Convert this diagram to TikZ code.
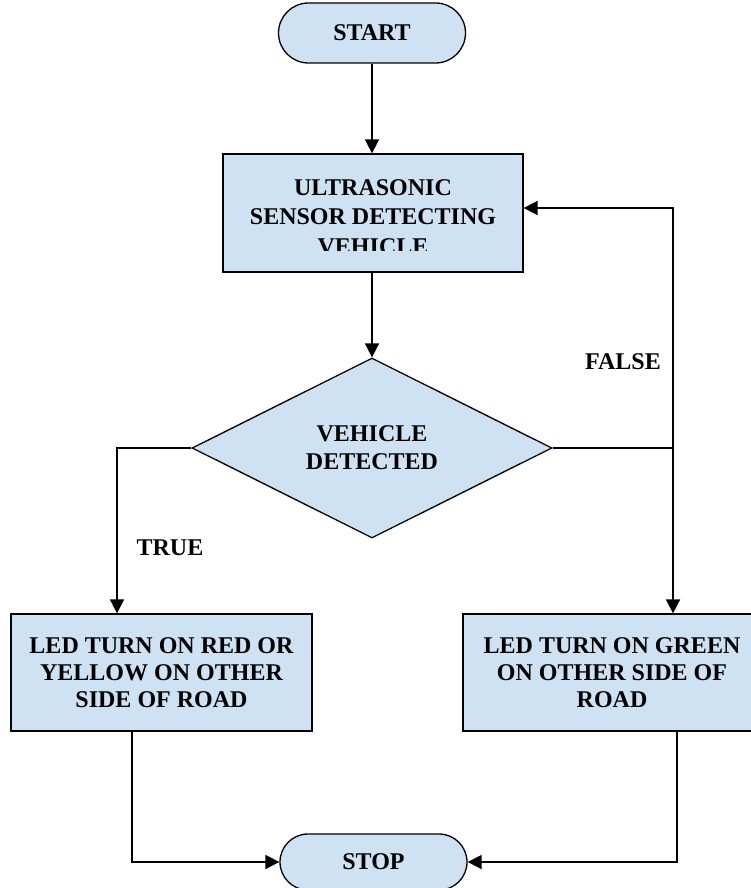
\documentclass[tikz,border=0pt]{standalone}
\usepackage{fontspec}
\setmainfont{Liberation Serif}
\usetikzlibrary{shapes.misc,shapes.geometric,arrows.meta}
\definecolor{boxfill}{RGB}{207,226,243}
\tikzset{
  shapeline/.style={draw=black,line width=1.3pt,fill=boxfill},
  terminal/.style={shapeline,rounded rectangle,minimum width=187pt,inner sep=0pt,
    font=\bfseries\fontsize{24}{27}\selectfont},
  procbox/.style={shapeline,rectangle,inner sep=0pt,align=center},
  decision/.style={shapeline,diamond,minimum width=360pt,minimum height=180pt,inner sep=0pt,
    align=center,font=\bfseries\fontsize{24}{28}\selectfont},
  lbl/.style={inner sep=0pt,align=center,font=\bfseries\fontsize{24}{27}\selectfont},
  arr/.style={draw=black,line width=1.7pt,-{Triangle[length=14pt,width=14pt]}},
  plain/.style={draw=black,line width=1.7pt}
}
\begin{document}
\begin{tikzpicture}[x=1pt,y=-1pt]
\useasboundingbox (0,0) rectangle (751,888);
% nodes
\node[terminal,minimum height=60pt] (start) at (372,33) {START};
\node[procbox,minimum width=300pt,minimum height=118pt] (sensor) at (373,213) {};
\begin{scope}
  \clip (223,154) rectangle (523,250);
  \node[lbl,font=\bfseries\fontsize{24}{29.5}\selectfont] (sensortext) at (373,217)
    {ULTRASONIC\\SENSOR DETECTING\\VEHICLE};
\end{scope}
\node[decision] (decide) at (372,448) {VEHICLE\\DETECTED};
\node[procbox,minimum width=301pt,minimum height=117pt,
  font=\bfseries\fontsize{24}{27}\selectfont] (redbox) at (161.5,672.5)
  {LED TURN ON RED OR\\YELLOW ON OTHER\\SIDE OF ROAD};
\node[procbox,minimum width=298pt,minimum height=117pt,
  font=\bfseries\fontsize{24}{27}\selectfont] (greenbox) at (612,672.5)
  {LED TURN ON GREEN\\ON OTHER SIDE OF\\ROAD};
\node[terminal,minimum height=56pt] (stop) at (373.5,862) {STOP};
\node[lbl] (truelbl) at (170,548) {TRUE};
\node[lbl] (falselbl) at (623,362) {FALSE};
% helper coordinates
\coordinate (tl) at (117,448);
\coordinate (tr) at (673,448);
\coordinate (fb) at (673,208);
\coordinate (bl) at (132,862);
\coordinate (br) at (677,862);
% connectors
\draw[arr] (start.south) -- (start.south |- sensor.north);
\draw[arr] (decide.north |- sensor.south) -- (decide.north);
\draw[arr] (decide.west) -- (tl) -- (tl |- redbox.north);
\draw[arr] (decide.east) -- (tr) -- (tr |- greenbox.north);
\draw[arr] (tr) -- (fb) -- (fb -| sensor.east);
\draw[arr] (bl |- redbox.south) -- (bl) -- (stop.west);
\draw[arr] (br |- greenbox.south) -- (br) -- (stop.east);
\end{tikzpicture}
\end{document}
